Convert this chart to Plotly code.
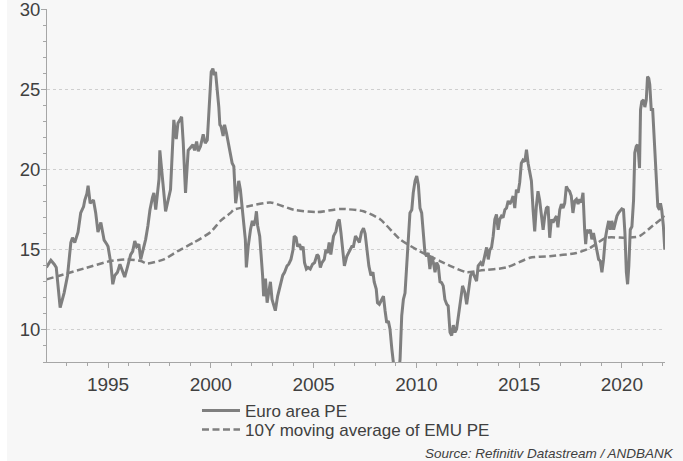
import plotly.graph_objects as go

# Euro area PE (decimal year, value)
pe_years = [1992.00, 1992.22, 1992.38, 1992.48, 1992.67, 1992.86, 1993.03, 1993.19, 1993.27, 1993.38,
            1993.54, 1993.67, 1993.81, 1993.87, 1993.97, 1994.03, 1994.13, 1994.29, 1994.40, 1994.51,
            1994.65, 1994.81, 1994.94, 1995.00, 1995.13, 1995.23, 1995.33, 1995.46, 1995.58, 1995.70,
            1995.81, 1995.94, 1996.10, 1996.20, 1996.30, 1996.39, 1996.50, 1996.59, 1996.72, 1996.83,
            1996.94, 1997.04, 1997.16, 1997.23, 1997.32, 1997.40, 1997.48, 1997.52, 1997.64, 1997.80,
            1998.04, 1998.20, 1998.32, 1998.40, 1998.50, 1998.58, 1998.66, 1998.72, 1998.77, 1998.90,
            1999.01, 1999.13, 1999.21, 1999.31, 1999.39, 1999.50, 1999.63, 1999.73, 1999.83, 1999.95,
            2000.02, 2000.10, 2000.17, 2000.23, 2000.31, 2000.39, 2000.44, 2000.50, 2000.60, 2000.67,
            2000.76, 2000.87, 2000.96, 2001.04, 2001.12, 2001.17, 2001.21, 2001.28, 2001.36, 2001.44,
            2001.50, 2001.60, 2001.68, 2001.73, 2001.82, 2001.93, 2002.02, 2002.09, 2002.17, 2002.22,
            2002.28, 2002.38, 2002.45, 2002.52, 2002.57, 2002.66, 2002.74, 2002.82, 2002.90, 2002.98,
            2003.06, 2003.14, 2003.25, 2003.38, 2003.50, 2003.59, 2003.71, 2003.79, 2003.90, 2004.00,
            2004.06, 2004.15, 2004.22, 2004.32, 2004.40, 2004.49, 2004.56, 2004.65, 2004.73, 2004.84,
            2004.95, 2005.05, 2005.17, 2005.24, 2005.33, 2005.41, 2005.52, 2005.60, 2005.68, 2005.76,
            2005.84, 2005.97, 2006.09, 2006.17, 2006.25, 2006.33, 2006.43, 2006.50, 2006.62, 2006.75,
            2006.86, 2006.94, 2007.04, 2007.14, 2007.23, 2007.33, 2007.43, 2007.51, 2007.59, 2007.69,
            2007.79, 2007.89, 2007.95, 2008.05, 2008.11, 2008.20, 2008.32, 2008.40, 2008.48, 2008.56,
            2008.64, 2008.72, 2008.81, 2008.85, 2008.97, 2009.11, 2009.21, 2009.29, 2009.37, 2009.45,
            2009.53, 2009.61, 2009.69, 2009.78, 2009.85, 2009.94, 2010.02, 2010.10, 2010.18, 2010.26,
            2010.34, 2010.42, 2010.50, 2010.58, 2010.66, 2010.75, 2010.83, 2010.91, 2010.99, 2011.07,
            2011.15, 2011.23, 2011.31, 2011.39, 2011.48, 2011.55, 2011.64, 2011.72, 2011.80, 2011.88,
            2011.96, 2012.04, 2012.16, 2012.25, 2012.36, 2012.45, 2012.53, 2012.64, 2012.74, 2012.82,
            2012.93, 2013.01, 2013.13, 2013.22, 2013.33, 2013.42, 2013.50, 2013.58, 2013.66, 2013.74,
            2013.82, 2013.90, 2013.98, 2014.06, 2014.14, 2014.22, 2014.31, 2014.39, 2014.47, 2014.55,
            2014.63, 2014.71, 2014.79, 2014.87, 2014.95, 2015.03, 2015.11, 2015.19, 2015.28, 2015.36,
            2015.44, 2015.52, 2015.60, 2015.68, 2015.76, 2015.84, 2015.92, 2016.00, 2016.09, 2016.17,
            2016.25, 2016.33, 2016.41, 2016.49, 2016.57, 2016.65, 2016.73, 2016.82, 2016.89, 2016.98,
            2017.06, 2017.14, 2017.22, 2017.30, 2017.38, 2017.46, 2017.54, 2017.62, 2017.71, 2017.79,
            2017.87, 2017.95, 2018.03, 2018.11, 2018.19, 2018.24, 2018.30, 2018.38, 2018.47, 2018.54,
            2018.62, 2018.71, 2018.78, 2018.87, 2018.95, 2019.03, 2019.11, 2019.19, 2019.27, 2019.36,
            2019.44, 2019.51, 2019.60, 2019.68, 2019.76, 2019.84, 2019.92, 2020.00, 2020.08, 2020.15,
            2020.22, 2020.28, 2020.34, 2020.41, 2020.49, 2020.57, 2020.63, 2020.70, 2020.76, 2020.81,
            2020.86, 2020.91, 2020.97, 2021.06, 2021.12, 2021.19, 2021.25, 2021.31, 2021.36, 2021.43,
            2021.50, 2021.59, 2021.67, 2021.75, 2021.83, 2021.88, 2021.94, 2022.02, 2022.09]
pe_values = [13.9, 14.35, 14.1, 13.9, 11.4, 12.3, 13.4, 15.45, 15.75, 15.45,
             16.1, 17.3, 17.7, 18.1, 18.5, 19.0, 17.9, 18.1, 17.3, 16.1,
             16.7, 15.6, 15.35, 15.2, 14.2, 12.85, 13.4, 13.6, 14.1, 13.7,
             13.3, 13.9, 14.7, 14.9, 15.55, 15.2, 15.35, 14.4, 15.0, 15.65,
             16.5, 17.5, 18.25, 18.55, 17.5, 18.35, 19.4, 21.2, 19.4, 17.4,
             18.75, 23.1, 21.9, 22.9, 23.1, 23.3, 21.65, 19.8, 18.55, 21.2,
             21.35, 21.55, 21.2, 21.75, 21.15, 21.45, 22.2, 21.65, 21.85, 24.35,
             26.1, 26.3, 25.9, 26.1, 25.2, 23.9, 22.8, 22.7, 22.1, 22.8,
             22.3, 21.45, 21.0, 20.4, 20.2, 18.95, 17.9, 18.55, 19.3, 18.75,
             17.9, 16.9, 15.65, 13.9, 15.2, 16.25, 16.8, 16.5, 16.9, 17.4,
             16.5, 15.85, 14.8, 13.4, 12.1, 13.2, 11.7, 12.35, 13.0, 11.9,
             11.5, 11.2, 12.1, 12.75, 13.4, 13.6, 14.0, 14.1, 14.4, 15.0,
             15.85, 15.75, 15.2, 15.35, 15.0, 15.2, 14.2, 13.8, 13.9, 13.8,
             14.1, 14.2, 14.7, 14.6, 13.9, 14.2, 14.4, 15.0, 14.8, 15.45,
             14.7, 15.85, 16.15, 16.7, 16.9, 16.1, 15.0, 14.0, 14.6, 14.9,
             15.2, 15.2, 15.85, 15.65, 15.45, 16.1, 16.35, 16.0, 15.0, 14.0,
             13.4, 13.6, 13.0, 12.55, 11.7, 11.6, 11.9, 12.1, 11.2, 10.45,
             10.55, 10.05, 8.8, 8.2, 7.0, 6.8, 8.2, 10.9, 11.9, 12.3,
             14.0, 16.1, 17.3, 17.5, 18.55, 19.3, 19.6, 19.05, 17.6, 17.3,
             16.1, 14.8, 14.6, 14.8, 13.8, 14.6, 14.2, 13.6, 14.2, 14.0,
             13.0, 12.95, 12.75, 11.9, 11.6, 11.5, 9.85, 9.65, 10.3, 9.85,
             10.05, 10.9, 11.9, 12.75, 12.35, 11.6, 12.35, 13.4, 13.6, 13.4,
             13.05, 14.0, 14.2, 14.0, 14.6, 15.15, 14.4, 15.0, 15.15, 15.85,
             16.9, 17.2, 16.25, 16.9, 17.1, 17.0, 17.5, 17.6, 18.05, 17.85,
             18.05, 18.35, 17.6, 18.75, 18.55, 19.2, 20.4, 20.6, 20.5, 21.25,
             20.4, 19.8, 19.3, 17.5, 16.15, 17.7, 18.65, 18.1, 16.9, 16.25,
             17.1, 17.6, 17.7, 15.75, 16.9, 16.7, 16.9, 17.1, 16.4, 17.5,
             17.85, 17.6, 17.9, 18.95, 18.75, 18.65, 18.35, 17.3, 18.05, 18.15,
             17.85, 18.15, 17.95, 18.55, 16.25, 15.35, 16.25, 16.05, 16.25, 15.65,
             16.05, 15.45, 14.8, 14.4, 14.3, 13.6, 14.4, 15.65, 16.25, 16.8,
             16.25, 16.8, 16.25, 16.8, 17.1, 17.3, 17.4, 17.55, 17.5, 16.05,
             13.6, 12.85, 14.0, 16.25, 16.45, 18.1, 21.05, 21.45, 21.55, 21.05,
             20.1, 23.75, 24.25, 24.35, 23.9, 24.35, 25.8, 25.7, 25.3, 23.75,
             23.75, 21.25, 19.2, 17.7, 17.5, 17.9, 17.5, 16.5, 15.0]

# 10Y moving average of EMU PE
ma_years = [1992.00, 1993.83, 1995.13, 1995.94, 1996.59, 1996.91, 1997.72, 1998.37, 1999.17, 1999.99,
            2000.47, 2000.96, 2001.12, 2001.77, 2002.90, 2004.03, 2005.17, 2006.30, 2007.43, 2008.24,
            2009.21, 2010.18, 2011.15, 2011.64, 2012.45, 2013.09, 2014.39, 2015.52, 2016.49, 2017.79,
            2018.43, 2019.24, 2020.21, 2020.86, 2021.50, 2022.09]
ma_values = [13.15, 13.83, 14.3, 14.4, 14.3, 14.15, 14.4, 14.9, 15.45, 16.1,
             16.8, 17.3, 17.5, 17.7, 17.95, 17.5, 17.35, 17.55, 17.4, 16.9,
             15.65, 14.9, 14.3, 14.0, 13.6, 13.7, 13.9, 14.5, 14.6, 14.8,
             15.1, 15.75, 15.75, 15.85, 16.5, 17.1]

x_ticks = [1995, 2000, 2005, 2010, 2015, 2020]
y_ticks = [10, 15, 20, 25, 30]

GREY = "#7f7f7f"
TXT = "#404040"
AX = "#a6a6a6"
FONT = "Liberation Sans, Arial, sans-serif"

fig = go.Figure()
fig.add_trace(go.Scatter(x=pe_years, y=pe_values, mode="lines", name="Euro area PE",
                         line=dict(color=GREY, width=3), legend="legend"))
fig.add_trace(go.Scatter(x=ma_years, y=ma_values, mode="lines", name="10Y moving average of EMU PE",
                         line=dict(color=GREY, width=2.5, dash="7px,3.5px", shape="spline", smoothing=0.6),
                         legend="legend2"))

leg_common = dict(xanchor="left", yanchor="middle", bgcolor="rgba(0,0,0,0)",
                  font=dict(size=17, color=TXT), itemwidth=38)

fig.update_layout(
    width=676, height=461,
    margin=dict(l=40, r=18, t=9, b=99),
    paper_bgcolor="#f7f7f7", plot_bgcolor="#f7f7f7",
    font=dict(family=FONT, color=TXT),
    showlegend=True,
    legend=dict(x=0.2427, y=-0.1388, **leg_common),
    legend2=dict(x=0.2427, y=-0.1926, **leg_common),
    xaxis=dict(range=[1992.03, 2022.1], tickvals=x_ticks, showgrid=False,
               showline=True, linecolor=AX, linewidth=1,
               ticks="outside", ticklen=5, tickcolor=AX,
               minor=dict(dtick=1, ticks="outside", ticklen=3, tickcolor=AX),
               tickfont=dict(size=19, color=TXT), zeroline=False, automargin=False),
    yaxis=dict(range=[8, 30.02], tickvals=y_ticks, showgrid=True,
               gridcolor="#cfcfcf", griddash="dot", gridwidth=1,
               showline=True, linecolor=AX, linewidth=1,
               ticks="outside", ticklen=5, tickcolor=AX,
               minor=dict(dtick=1, ticks="outside", ticklen=3, tickcolor=AX, showgrid=False),
               tickfont=dict(size=18.5, color=TXT), zeroline=False, automargin=False,
               ticklabeloverflow="allow", ticklabelstandoff=-3),
    annotations=[dict(text="<i>Source: Refinitiv Datastream / ANDBANK</i>", xref="paper", yref="paper",
                      x=1.0175, y=-0.2578, xanchor="right", yanchor="middle", showarrow=False,
                      font=dict(size=13.5, color=TXT, family=FONT))],
)

fig.write_html("out.html", post_script="document.body.style.margin='0 0 0 7px';")
